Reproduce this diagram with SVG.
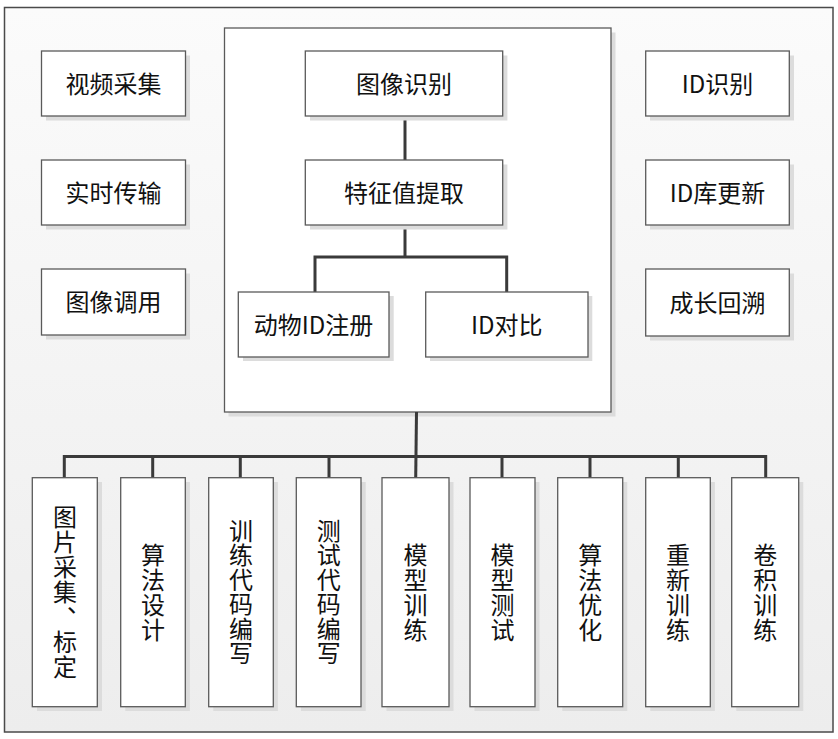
<svg xmlns="http://www.w3.org/2000/svg" width="838" height="739" viewBox="0 0 838 739">
<defs>
<linearGradient id="bg" x1="0" y1="0" x2="0" y2="1">
<stop offset="0" stop-color="#fbfbfb"/>
<stop offset="1" stop-color="#ededed"/>
</linearGradient>
</defs>
<style>
.box{fill:#ffffff;stroke:#5a5a5a;stroke-width:1.3}
.sh{fill:#dcdcdc}
.t{font-family:"Noto Sans CJK SC","Noto Sans",sans-serif;font-size:24px;fill:#111;text-anchor:middle}
.c{fill:none;stroke:#3a3a3a;stroke-width:3;stroke-linejoin:miter}
</style>
<rect x="0" y="0" width="838" height="739" fill="#ffffff"/>
<rect id="frame" x="4.5" y="7.5" width="828.5" height="724.5" fill="url(#bg)" stroke="#4a4a4a" stroke-width="1.5"/>

<g id="center-box">
<rect class="sh" x="228.5" y="32.5" width="387" height="384"/>
<rect class="box" x="224.5" y="28" width="386.5" height="384"/>
</g>

<g id="connectors">
<path class="c" d="M405 116 V160"/>
<path class="c" d="M405 225 V257 M315 292 V257 H506.7 V292"/>
<path class="c" d="M416.5 412 L415.7 478"/>
<path class="c" d="M64.3 478 V456.5 H765.7 V478"/>
<path class="c" d="M152.7 456.5 V478 M240.3 456.5 V478 M329 456.5 V478 M502 456.5 V478 M590 456.5 V478 M678.3 456.5 V478"/>
</g>

<g id="n-shipin">
<rect class="sh" x="46" y="55.5" width="144" height="65"/>
<rect class="box" x="41.5" y="51" width="144" height="65"/>
<text class="t" x="113.5" y="92.5">视频采集</text>
</g>
<g id="n-shishi">
<rect class="sh" x="46" y="164.5" width="144" height="65"/>
<rect class="box" x="41.5" y="160" width="144" height="65"/>
<text class="t" x="113.5" y="201.5">实时传输</text>
</g>
<g id="n-tuxiangdiaoyong">
<rect class="sh" x="46" y="273.5" width="144" height="66"/>
<rect class="box" x="41.5" y="269" width="144" height="66"/>
<text class="t" x="113.5" y="311">图像调用</text>
</g>

<g id="n-idshibie">
<rect class="sh" x="650" y="55.5" width="144" height="65"/>
<rect class="box" x="645.7" y="51" width="143.6" height="65"/>
<text class="t" x="717.5" y="92.5">ID识别</text>
</g>
<g id="n-idku">
<rect class="sh" x="650" y="164.5" width="144" height="65"/>
<rect class="box" x="645.7" y="160" width="143.6" height="65"/>
<text class="t" x="717.5" y="201.5">ID库更新</text>
</g>
<g id="n-chengzhang">
<rect class="sh" x="650" y="273.5" width="144" height="67"/>
<rect class="box" x="645.7" y="269" width="143.6" height="67"/>
<text class="t" x="717.5" y="311.5">成长回溯</text>
</g>

<g id="n-tuxiangshibie">
<rect class="sh" x="310" y="55.5" width="197.4" height="65"/>
<rect class="box" x="305.3" y="51" width="197.4" height="65"/>
<text class="t" x="404" y="92.5">图像识别</text>
</g>
<g id="n-tezheng">
<rect class="sh" x="310" y="164.5" width="197.4" height="65"/>
<rect class="box" x="305.3" y="160" width="197.4" height="65"/>
<text class="t" x="404" y="201.5">特征值提取</text>
</g>
<g id="n-zhuce">
<rect class="sh" x="243" y="296" width="150.7" height="65"/>
<rect class="box" x="238.3" y="292" width="150.7" height="65"/>
<text class="t" x="313.6" y="333.5">动物ID注册</text>
</g>
<g id="n-duibi">
<rect class="sh" x="430" y="296" width="162.3" height="65"/>
<rect class="box" x="425.7" y="292" width="162.3" height="65"/>
<text class="t" x="506.8" y="333.5">ID对比</text>
</g>

<g id="n-b1">
<rect class="sh" x="37" y="482" width="65" height="229"/>
<rect class="box" x="32.3" y="477.7" width="65" height="229"/>
<text class="t"><tspan x="65" y="526">图</tspan><tspan x="65" y="551">片</tspan><tspan x="65" y="576">采</tspan><tspan x="65" y="601">集</tspan><tspan x="65" y="651">标</tspan><tspan x="65" y="676">定</tspan></text>
<text class="t" x="67" y="612" style="text-anchor:start">、</text>
</g>
<g id="n-b2">
<rect class="sh" x="125.3" y="482" width="64.6" height="229"/>
<rect class="box" x="120.7" y="477.7" width="64.6" height="229"/>
<text class="t"><tspan x="153" y="563.5">算</tspan><tspan x="153" y="588.5">法</tspan><tspan x="153" y="613.5">设</tspan><tspan x="153" y="638.5">计</tspan></text>
</g>
<g id="n-b3">
<rect class="sh" x="213.3" y="482" width="64.6" height="229"/>
<rect class="box" x="208.7" y="477.7" width="64.6" height="229"/>
<text class="t"><tspan x="241" y="539.5">训</tspan><tspan x="241" y="564">练</tspan><tspan x="241" y="588.5">代</tspan><tspan x="241" y="613">码</tspan><tspan x="241" y="637.5">编</tspan><tspan x="241" y="662">写</tspan></text>
</g>
<g id="n-b4">
<rect class="sh" x="301" y="482" width="64.7" height="229"/>
<rect class="box" x="296.3" y="477.7" width="64.7" height="229"/>
<text class="t"><tspan x="328.7" y="539.5">测</tspan><tspan x="328.7" y="564">试</tspan><tspan x="328.7" y="588.5">代</tspan><tspan x="328.7" y="613">码</tspan><tspan x="328.7" y="637.5">编</tspan><tspan x="328.7" y="662">写</tspan></text>
</g>
<g id="n-b5">
<rect class="sh" x="386.5" y="482" width="67" height="229"/>
<rect class="box" x="382" y="477.7" width="67" height="229"/>
<text class="t"><tspan x="415.5" y="563.5">模</tspan><tspan x="415.5" y="588.5">型</tspan><tspan x="415.5" y="613.5">训</tspan><tspan x="415.5" y="638.5">练</tspan></text>
</g>
<g id="n-b6">
<rect class="sh" x="474.5" y="482" width="65" height="229"/>
<rect class="box" x="470" y="477.7" width="65" height="229"/>
<text class="t"><tspan x="502.5" y="563.5">模</tspan><tspan x="502.5" y="588.5">型</tspan><tspan x="502.5" y="613.5">测</tspan><tspan x="502.5" y="638.5">试</tspan></text>
</g>
<g id="n-b7">
<rect class="sh" x="562.3" y="482" width="65" height="229"/>
<rect class="box" x="557.7" y="477.7" width="65" height="229"/>
<text class="t"><tspan x="590.2" y="563.5">算</tspan><tspan x="590.2" y="588.5">法</tspan><tspan x="590.2" y="613.5">优</tspan><tspan x="590.2" y="638.5">化</tspan></text>
</g>
<g id="n-b8">
<rect class="sh" x="650.3" y="482" width="64.6" height="229"/>
<rect class="box" x="645.7" y="477.7" width="64.6" height="229"/>
<text class="t"><tspan x="678" y="563.5">重</tspan><tspan x="678" y="588.5">新</tspan><tspan x="678" y="613.5">训</tspan><tspan x="678" y="638.5">练</tspan></text>
</g>
<g id="n-b9">
<rect class="sh" x="736.3" y="482" width="67" height="229"/>
<rect class="box" x="731.7" y="477.7" width="67" height="229"/>
<text class="t"><tspan x="765.2" y="563.5">卷</tspan><tspan x="765.2" y="588.5">积</tspan><tspan x="765.2" y="613.5">训</tspan><tspan x="765.2" y="638.5">练</tspan></text>
</g>
</svg>
